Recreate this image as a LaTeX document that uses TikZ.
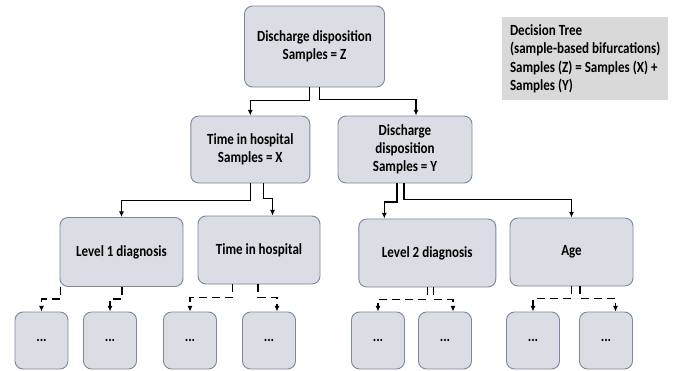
\documentclass[tikz,border=0pt]{standalone}
\usepackage{fontspec}
\setmainfont{Carlito}[FakeStretch=0.84]
\usepackage{xcolor}
\usetikzlibrary{positioning, arrows.meta}
\definecolor{boxfill}{HTML}{DADDE3}
\definecolor{boxline}{HTML}{7B879E}
\definecolor{notefill}{HTML}{D9D9D9}

\begin{document}
\begin{tikzpicture}[
  x=1pt, y=-1pt,
  treebox/.style={draw=boxline, line width=0.9pt, rounded corners=8pt, fill=boxfill, align=center, font=\fontsize{15.5}{18}\selectfont\bfseries},
  leafbox/.style={treebox, minimum width=53pt, minimum height=57pt},
  link/.style={-{Latex[length=2mm, width=1.8mm]}, line width=1.3pt, black},
  dashlink/.style={link, dash pattern=on 8pt off 5pt}
]
  \useasboundingbox (0,0) rectangle (675,370);

  % top levels
  \node[treebox, minimum width=140pt, minimum height=81pt] (root) at (314.5,46.5) {Discharge disposition\\Samples = Z};
  \node[treebox, minimum width=119pt, minimum height=67pt] (th) at (250.3,149.5) {Time in hospital\\Samples = X};
  \node[treebox, minimum width=134pt, minimum height=67pt] (dd) at (405,149.5) {Discharge\\disposition\\Samples = Y};

  \node[treebox, minimum width=123pt, minimum height=69pt] (l1) at (121.5,252) {Level 1 diagnosis};
  \node[treebox, minimum width=122pt, minimum height=68pt] (th2) at (259,250) {Time in hospital};
  \node[treebox, minimum width=137pt, minimum height=68pt] (l2) at (427.3,253) {Level 2 diagnosis};
  \node[treebox, minimum width=123pt, minimum height=68pt] (age) at (571.5,252) {Age};

  % leaves
  \node[leafbox] (f1) at (41.5,340.5) {...};
  \node[leafbox] (f2) at (110,340.5) {...};
  \node[leafbox] (f3) at (190,340.5) {...};
  \node[leafbox] (f4) at (269,340.5) {...};
  \node[leafbox] (f5) at (378,340.5) {...};
  \node[leafbox] (f6) at (445,340.5) {...};
  \node[leafbox] (f7) at (533,340.5) {...};
  \node[leafbox] (f8) at (606,340.5) {...};

  % note
  \node[fill=notefill, anchor=north west, minimum width=166pt, minimum height=83pt, align=left, inner xsep=6pt, font=\fontsize{15.5}{18.3}\selectfont\bfseries] (note) at (502,17) {Decision Tree\\(sample-based bifurcations)\\Samples (Z) = Samples (X) +\\Samples (Y)};

  % solid splits
  \draw[link] ([xshift=-5pt]root.south) -- ++(0,13) -| (th.north);
  \draw[link] ([xshift=5pt]root.south) -- ++(0,12) -| ([xshift=11pt]dd.north);
  \draw[link] (th.south) -- ++(0,17) -| (l1.north);
  \draw[link] ([xshift=13pt]th.south) -- ++(0,15) -| ([xshift=13.5pt]th2.north);
  \draw[link] ([xshift=-8pt]dd.south) -- ++(0,18.5) -| ([xshift=-43pt]l2.north);
  \draw[link] ([xshift=-1pt]dd.south) -- ++(0,16) -| (age.north);

  % dashed splits
  \draw[dashlink] ([xshift=-61pt]l1.south) -- ++(0,12) -| (f1.north);
  \draw[dashlink] ([xshift=0.5pt]l1.south) -- ++(0,12) -| (f2.north);
  \draw[dashlink] ([xshift=-26.5pt]th2.south) -- ++(0,13) -| (f3.north);
  \draw[dashlink] ([xshift=-1pt]th2.south) -- ++(0,13) -| ([xshift=8pt]f4.north);
  \draw[dashlink] (l2.south) -- ++(0,12) -| (f5.north);
  \draw[dashlink] ([xshift=6pt]l2.south) -- ++(0,12) -| ([xshift=8pt]f6.north);
  \draw[dashlink] (age.south) -- ++(0,12) -| (f7.north);
  \draw[dashlink] ([xshift=8.5pt]age.south) -- ++(0,12) -| ([xshift=9.5pt]f8.north);
\end{tikzpicture}
\end{document}
